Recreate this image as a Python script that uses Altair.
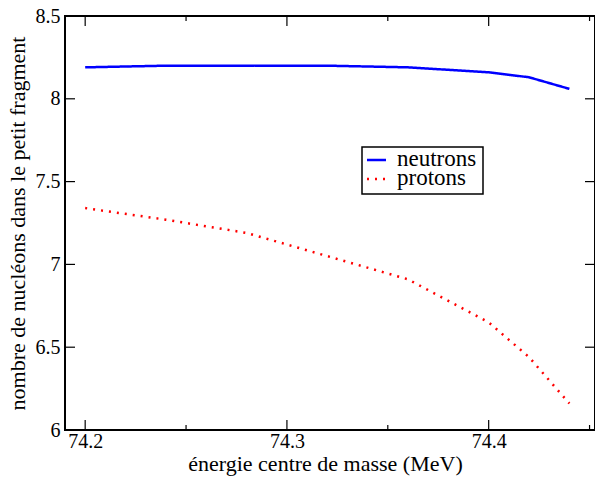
import altair as alt
import pandas as pd

# data
energy = [74.20, 74.24, 74.28, 74.32, 74.36, 74.40, 74.42, 74.44]
neutrons = [8.19, 8.20, 8.20, 8.20, 8.19, 8.16, 8.13, 8.06]
protons = [7.34, 7.27, 7.19, 7.05, 6.91, 6.65, 6.44, 6.16]
series_names = ["neutrons", "protons"]

x_major = [74.2, 74.3, 74.4]
x_minor = [74.25, 74.35, 74.45]
y_major = [6.0, 6.5, 7.0, 7.5, 8.0, 8.5]

X_DOMAIN = [74.19, 74.4527]
Y_DOMAIN = [6.0, 8.5]
W, H = 530, 414
FONT = "Liberation Serif"

rows = []
for e, n, p in zip(energy, neutrons, protons):
    rows.append({"E": e, "N": n, "serie": series_names[0]})
    rows.append({"E": e, "N": p, "serie": series_names[1]})
df = pd.DataFrame(rows)
legend_df = pd.DataFrame({"serie": series_names})

xs = alt.Scale(domain=X_DOMAIN, nice=False, zero=False)
ys = alt.Scale(domain=Y_DOMAIN, nice=False, zero=False)
color_scale = alt.Scale(domain=series_names, range=["#0000ff", "#ff0000"])
dash_scale = alt.Scale(domain=series_names, range=[[1, 0], [2, 6]])

lines = alt.Chart(df).mark_line(strokeWidth=2.5, strokeCap="butt").encode(
    x=alt.X("E:Q", scale=xs,
            axis=alt.Axis(values=x_major, format=".1f", ticks=False, domain=False, grid=False,
                          title="énergie centre de masse (MeV)", labelPadding=1, titlePadding=2,
                          titleX=260)),
    y=alt.Y("N:Q", scale=ys,
            axis=alt.Axis(values=y_major, format="~g", ticks=False, domain=False, grid=False,
                          title="nombre de nucléons dans le petit fragment", labelPadding=5, titlePadding=6)),
    color=alt.Color("serie:N", scale=color_scale, legend=None),
    strokeDash=alt.StrokeDash("serie:N", scale=dash_scale, legend=None),
)

xmaj_df = pd.DataFrame({"t": x_major})
xmin_df = pd.DataFrame({"t": x_minor})
ymaj_df = pd.DataFrame({"t": y_major})

def xticks(d, length):
    bottom = alt.Chart(d).mark_rule(color="black", strokeWidth=1.2).encode(
        x=alt.X("t:Q", scale=xs), y=alt.value(H), y2=alt.value(H - length))
    top = alt.Chart(d).mark_rule(color="black", strokeWidth=1.2).encode(
        x=alt.X("t:Q", scale=xs), y=alt.value(0), y2=alt.value(length))
    return bottom + top

def yticks(d, length):
    left = alt.Chart(d).mark_rule(color="black", strokeWidth=1.2).encode(
        y=alt.Y("t:Q", scale=ys), x=alt.value(0), x2=alt.value(length))
    right = alt.Chart(d).mark_rule(color="black", strokeWidth=1.2).encode(
        y=alt.Y("t:Q", scale=ys), x=alt.value(W), x2=alt.value(W - length))
    return left + right

plot = alt.layer(lines, xticks(xmaj_df, 10), xticks(xmin_df, 5), yticks(ymaj_df, 10))

# legend box (layout in pixels of the plot area)
legend_y = alt.Scale(type="point", domain=series_names, range=[144, 163], padding=0)
box = alt.Chart(pd.DataFrame({"k": [0]})).mark_rect(fill="white", stroke="black", strokeWidth=1.5).encode(
    x=alt.value(297), x2=alt.value(418), y=alt.value(131), y2=alt.value(178))
sym = alt.Chart(legend_df).mark_rule(strokeWidth=2.5, strokeCap="butt").encode(
    x=alt.value(302), x2=alt.value(321),
    y=alt.Y("serie:N", scale=legend_y, axis=None),
    color=alt.Color("serie:N", scale=color_scale, legend=None),
    strokeDash=alt.StrokeDash("serie:N", scale=dash_scale, legend=None),
)
lab = alt.Chart(legend_df).mark_text(align="left", baseline="middle", font=FONT, fontSize=23,
                                     color="black", dy=-1).encode(
    x=alt.value(332),
    y=alt.Y("serie:N", scale=legend_y, axis=None),
    text="serie:N",
)
legend = alt.layer(box, sym, lab)

chart = alt.layer(plot, legend).resolve_scale(y="independent").properties(
    width=W, height=H,
    autosize=alt.AutoSizeParams(type="none"),
    padding={"left": 57, "top": 8, "right": 0, "bottom": 50},
).configure_view(
    stroke="black", strokeWidth=2
).configure_axis(
    labelFont=FONT, titleFont=FONT, labelFontSize=20, titleFontSize=22,
    labelColor="black", titleColor="black", titleFontWeight="normal"
)

chart.save("out.html", embed_options={"renderer": "svg", "actions": False})
